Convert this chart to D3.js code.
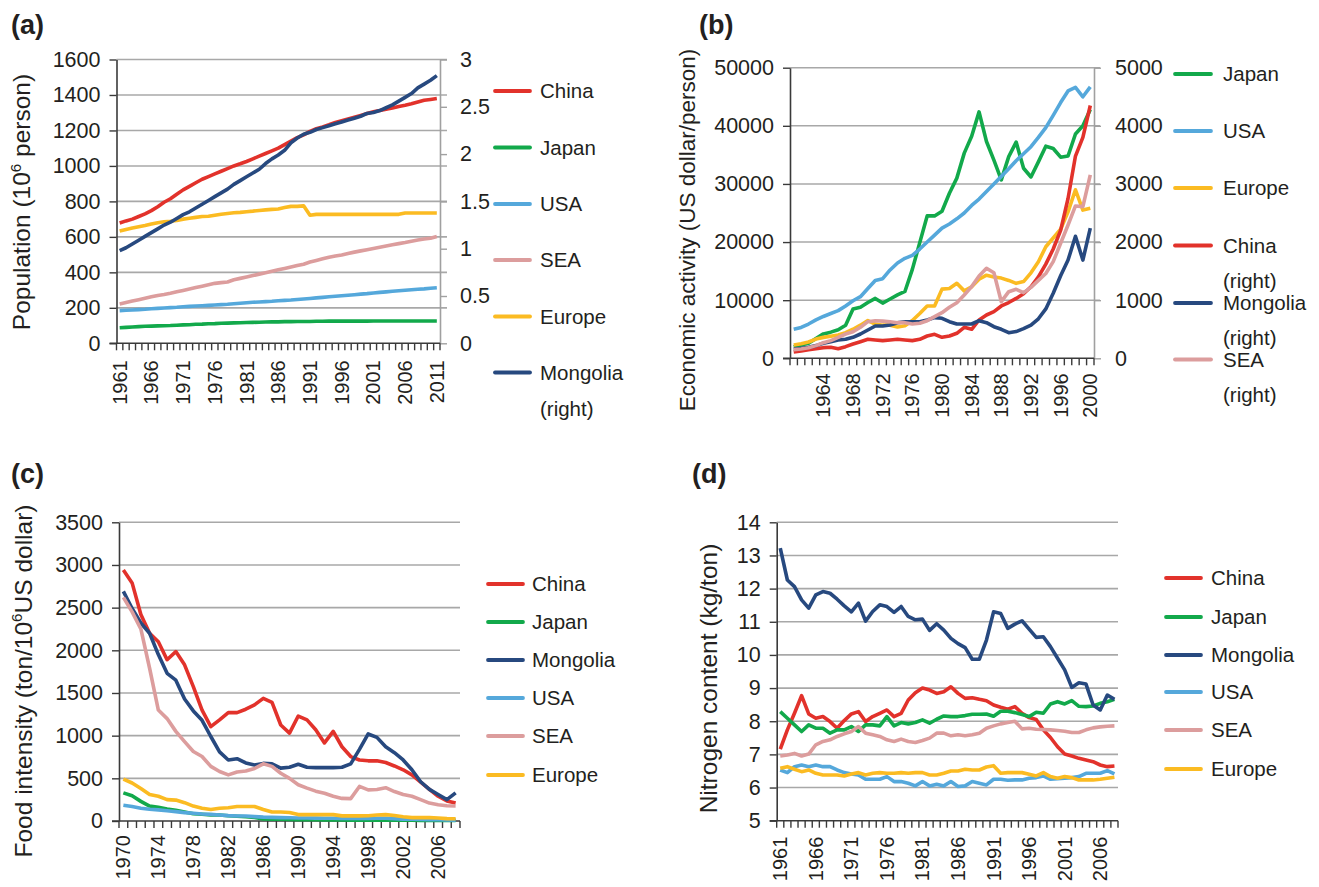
<!DOCTYPE html>
<html><head><meta charset="utf-8">
<script src="https://cdn.jsdelivr.net/npm/d3@7"></script>
<style>body{margin:0;background:#fff} svg{display:block}</style>
</head><body><svg id="chart" width="1319" height="887"></svg>
<script>
// ---------------- DATA ----------------
// (a) Population, 10^6 persons (Mongolia on right axis)
const yearsA = d3.range(1961, 2012);
const xLabelsA = [1961,1966,1971,1976,1981,1986,1991,1996,2001,2006,2011];
const yTicksA = [0,200,400,600,800,1000,1200,1400,1600];
const yRightTicksA = [0,0.5,1,1.5,2,2.5,3];
const popChina = [678,690,700,715,730,748,770,795,815,840, 865,885,905,925,940,955,970,985,1000,1012, 1025,1040,1055,1070,1085,1100,1120,1140,1160,1175, 1195,1210,1220,1232,1245,1255,1265,1275,1285,1295, 1305,1312,1320,1327,1335,1342,1350,1360,1370,1375,1380];
const popJapan = [88,90,92,94,96,97,98,99,100,102, 104,105,107,108,110,111,113,114,115,116, 117,118,119,120,121,121,122,122,123,123, 123,124,124,125,125,125,125,125,125,125, 126,126,126,126,126,126,126,126,126,126,126];
const popUSA = [184,186,188,190,192,195,197,199,201,203, 206,208,210,212,214,216,218,220,223,226, 229,231,233,235,237,240,242,244,247,250, 253,256,259,262,265,268,271,274,277,280, 284,287,290,293,296,299,302,305,307,310,313];
const popSEA = [222,230,238,246,254,262,270,275,282,290, 298,306,314,322,330,338,342,346,358,366, 374,382,390,398,406,414,422,430,438,446, 458,467,476,485,492,498,506,514,521,528, 535,542,549,556,562,568,575,582,588,592,602];
const popEurope = [633,642,650,657,664,672,680,685,688,692, 700,705,710,715,716,722,728,732,736,738, 742,745,749,752,755,757,765,772,772,775, 722,727,727,727,727,727,727,727,727,727, 727,727,727,727,727,735,735,735,735,735,735];
const popMongolia = [0.98,1.01,1.05,1.09,1.13,1.17,1.21,1.25,1.28,1.32, 1.36,1.39,1.43,1.47,1.51,1.55,1.59,1.63,1.68,1.72, 1.76,1.80,1.84,1.90,1.95,1.99,2.04,2.12,2.17,2.21, 2.23,2.26,2.28,2.30,2.32,2.34,2.36,2.38,2.40,2.43, 2.44,2.46,2.49,2.52,2.56,2.60,2.64,2.70,2.74,2.78,2.83];

// (b) Economic activity, US dollar/person (China, Mongolia, SEA on right axis)
const yearsB = d3.range(1960, 2001);
const xLabelsB = [1964,1968,1972,1976,1980,1984,1988,1992,1996,2000];
const yTicksB = [0,10000,20000,30000,40000,50000];
const yRightTicksB = [0,1000,2000,3000,4000,5000];
const gdpJapan = [2000,2300,2600,3400,4200,4500,4900,5700,8500,8800, 9600,10300,9500,10200,10900,11500,15300,19900,24500,24500, 25300,28400,31000,35300,38200,42400,37300,34100,30700,34700, 37200,32700,31200,33800,36500,36100,34600,34800,38600,40000, 42800];
const gdpUSA = [5000,5300,5900,6600,7200,7700,8200,9000,9900,10600, 12000,13400,13700,15200,16400,17200,17700,18800,20000,21200, 22400,23100,24000,25000,26300,27400,28700,30000,31300,32600, 34000,35200,36400,38000,39700,41800,44000,46000,46600,45000, 46700];
const gdpEurope = [2300,2500,2800,3300,3600,3800,4000,4400,5000,5700, 6500,5900,5700,5700,5400,5600,6500,7700,9000,9000, 11900,12000,12900,11600,12300,13600,14300,14000,13800,13400, 12900,13200,14700,16600,19200,20700,22200,25200,29000,25500, 25800];
const gdpChina = [109,126,149,166,183,189,166,200,246,286, 327,315,304,315,327,315,304,327,384,413, 361,384,430,533,499,659,745,802,900,960, 1030,1110,1230,1400,1620,1880,2200,2750,3480,3800, 4350];
const gdpMongolia = [161,172,189,218,258,286,315,327,361,418, 487,556,556,573,613,630,630,630,659,700, 688,630,590,590,590,647,613,544,499,440, 460,510,570,680,850,1120,1420,1690,2100,1690, 2240];
const gdpSEA = [149,161,183,218,269,304,361,418,458,533, 630,647,640,630,613,613,590,602,647,716, 785,877,957,1090,1233,1417,1549,1473,974,1146, 1187,1130,1220,1340,1460,1663,1979,2294,2621,2610, 3155];

// (c) Food intensity, ton/10^6 US dollar
const yearsC = d3.range(1970, 2009);
const xLabelsC = [1970,1974,1978,1982,1986,1990,1994,1998,2002,2006];
const yTicksC = [0,500,1000,1500,2000,2500,3000,3500];
const fiChina = [2940,2790,2420,2200,2100,1890,1985,1830,1575,1300, 1105,1185,1270,1270,1310,1360,1437,1390,1125,1030, 1230,1185,1070,915,1050,870,755,715,705,705, 685,645,600,540,455,370,290,235,210];
const fiJapan = [330,295,230,175,160,140,125,105,85,80, 72,70,62,55,50,42,25,20,20,18, 15,15,14,13,12,12,10,10,10,10, 9,9,8,8,7,6,6,5,5];
const fiMongolia = [2690,2490,2320,2200,1950,1730,1650,1430,1290,1180, 990,810,715,730,680,655,675,670,620,630, 665,630,625,625,625,630,670,840,1020,980, 870,800,715,600,460,370,310,250,330];
const fiUSA = [185,170,150,137,130,120,110,98,90,82, 78,70,63,59,58,51,45,43,40,38, 36,35,34,33,32,31,31,30,30,32, 33,28,22,20,18,16,14,12,10];
const fiSEA = [2620,2450,2250,1790,1300,1200,1050,930,815,755, 640,580,540,575,585,615,670,640,560,500, 425,385,350,325,290,265,262,405,365,370, 390,345,310,290,250,210,190,178,176];
const fiEurope = [490,445,380,310,290,250,245,215,175,150, 135,150,155,170,170,170,135,105,105,100, 75,75,75,75,75,60,60,60,62,70, 75,65,50,40,40,40,35,28,27];

// (d) Nitrogen content, kg/ton
const yearsD = d3.range(1961, 2009);
const xLabelsD = [1961,1966,1971,1976,1981,1986,1991,1996,2001,2006];
const yTicksD = [5,6,7,8,9,10,11,12,13,14];
const ncChina = [7.16,7.74,8.24,8.77,8.22,8.09,8.14,7.99,7.79,8.02, 8.22,8.29,7.99,8.14,8.24,8.34,8.14,8.24,8.64,8.86, 9.0,8.94,8.84,8.89,9.04,8.84,8.69,8.71,8.66,8.62, 8.49,8.42,8.36,8.44,8.24,8.11,8.05,7.74,7.51,7.23, 7.01,6.95,6.88,6.83,6.78,6.68,6.63,6.65];
const ncJapan = [8.29,8.09,7.89,7.69,7.89,7.79,7.79,7.64,7.74,7.74, 7.84,7.69,7.89,7.89,7.86,8.14,7.86,7.96,7.92,7.96, 8.04,7.94,8.06,8.16,8.14,8.14,8.17,8.21,8.21,8.22, 8.15,8.3,8.3,8.26,8.2,8.14,8.27,8.24,8.52,8.59, 8.52,8.62,8.45,8.44,8.46,8.54,8.59,8.66];
const ncMongolia = [13.22,12.26,12.06,11.66,11.41,11.81,11.91,11.86,11.68,11.48, 11.3,11.56,11.02,11.31,11.51,11.46,11.28,11.46,11.16,11.06, 11.08,10.74,10.94,10.75,10.5,10.34,10.22,9.87,9.87,10.45, 11.3,11.25,10.8,10.93,11.03,10.78,10.53,10.55,10.25,9.9, 9.55,9.02,9.16,9.12,8.49,8.34,8.79,8.66];
const ncUSA = [6.53,6.45,6.63,6.68,6.63,6.68,6.63,6.63,6.53,6.45, 6.41,6.38,6.25,6.25,6.25,6.33,6.18,6.18,6.13,6.05, 6.18,6.05,6.1,6.05,6.18,6.03,6.05,6.18,6.13,6.08, 6.25,6.25,6.22,6.23,6.23,6.28,6.3,6.35,6.25,6.27, 6.28,6.3,6.33,6.43,6.43,6.43,6.51,6.41];
const ncSEA = [6.95,6.98,7.03,6.95,7.01,7.29,7.39,7.44,7.54,7.62, 7.69,7.84,7.64,7.59,7.54,7.44,7.39,7.46,7.39,7.36, 7.42,7.49,7.64,7.64,7.56,7.59,7.56,7.59,7.64,7.79, 7.86,7.92,7.96,8.0,7.77,7.79,7.76,7.75,7.74,7.72, 7.7,7.66,7.66,7.74,7.8,7.83,7.85,7.86];
const ncEurope = [6.58,6.63,6.55,6.48,6.53,6.43,6.38,6.38,6.38,6.35, 6.41,6.45,6.38,6.43,6.45,6.43,6.43,6.45,6.43,6.45, 6.45,6.38,6.38,6.43,6.5,6.5,6.55,6.53,6.53,6.62, 6.66,6.43,6.45,6.45,6.45,6.4,6.35,6.45,6.33,6.28, 6.33,6.3,6.23,6.23,6.23,6.25,6.28,6.31];

// ---------------- STYLE ----------------
const FONT = "'Liberation Sans', Arial, Helvetica, sans-serif";
const COL = {China:"#E2322B", Japan:"#12A94B", USA:"#55A8DB", SEA:"#DC9D9D", Europe:"#FBBB22", Mongolia:"#27497F"};
const AXIS = "#3a3a3a", GRID = "#a8a8a8", RAXIS = "#a0a0a0";

const svg = d3.select("#chart").style("font-family", FONT);

function panel(cfg) {
  const g = svg.append("g");
  const x = d3.scaleBand().domain(cfg.years).range([cfg.x0, cfg.x1]).padding(0);
  const y = d3.scaleLinear().domain([cfg.yTicks[0], cfg.yTicks[cfg.yTicks.length-1]]).range([cfg.yBot, cfg.yTop]);
  const yR = cfg.rightTicks ? d3.scaleLinear().domain([cfg.rightTicks[0], cfg.rightTicks[cfg.rightTicks.length-1]]).range([cfg.yBot, cfg.yTop]) : null;

  // gridlines
  g.append("g").selectAll("line").data(cfg.yTicks.slice(1)).join("line")
    .attr("x1", cfg.x0).attr("x2", cfg.gridEnd)
    .attr("y1", d => y(d)).attr("y2", d => y(d))
    .attr("stroke", GRID).attr("stroke-width", 1.6);

  // right axis
  if (yR) {
    const ra = g.append("g").attr("transform", `translate(${cfg.x1},0)`)
      .call(d3.axisRight(yR).tickValues(cfg.rightTicks).tickSize(7).tickSizeOuter(0).tickPadding(cfg.rPad)
        .tickFormat(d => String(d)));
    ra.select(".domain").attr("stroke", RAXIS).attr("stroke-width", 1.6);
    ra.selectAll(".tick line").attr("stroke", RAXIS).attr("stroke-width", 1.4);
    ra.selectAll("text").attr("font-size", 21.5).attr("fill", "#231f20").attr("font-family", FONT);
  }

  // left axis
  const la = g.append("g").attr("transform", `translate(${cfg.x0},0)`)
    .call(d3.axisLeft(y).tickValues(cfg.yTicks).tickSize(7).tickSizeOuter(0).tickPadding(9).tickFormat(d => String(d)));
  la.select(".domain").attr("stroke", AXIS).attr("stroke-width", 1.6);
  la.selectAll(".tick line").attr("stroke", AXIS).attr("stroke-width", 1.4);
  la.selectAll("text").attr("font-size", 21.5).attr("fill", "#231f20").attr("font-family", FONT);

  // bottom axis (category axis, ticks between categories)
  const bw = x.bandwidth();
  g.append("line").attr("x1", cfg.x0 - 7).attr("x2", cfg.x1).attr("y1", cfg.yBot).attr("y2", cfg.yBot)
    .attr("stroke", AXIS).attr("stroke-width", 1.6);
  g.append("g").selectAll("line").data(d3.range(cfg.years.length + 1)).join("line")
    .attr("x1", i => cfg.x0 + i * bw).attr("x2", i => cfg.x0 + i * bw)
    .attr("y1", cfg.yBot).attr("y2", cfg.yBot + 7)
    .attr("stroke", AXIS).attr("stroke-width", 1.4);
  g.append("g").selectAll("text").data(cfg.xLabels).join("text")
    .attr("transform", d => `translate(${x(d) + bw/2},${cfg.yBot + cfg.xLabOff}) rotate(-90)`)
    .attr("text-anchor", "end").attr("dy", "0.35em")
    .attr("font-size", 20).attr("fill", "#231f20")
    .text(d => d);

  // lines
  cfg.series.forEach(s => {
    const sc = s.right ? yR : y;
    const line = d3.line().x((d, i) => x(cfg.years[i]) + bw/2).y(d => sc(d));
    g.append("path").datum(s.values).attr("d", line)
      .attr("fill", "none").attr("stroke", COL[s.name]).attr("stroke-width", 3.6)
      .attr("stroke-linejoin", "round").attr("stroke-linecap", "butt");
  });

  // legend
  const lg = g.append("g");
  cfg.legendOrder.forEach((name, i) => {
    const s = cfg.series.find(q => q.name === name);
    const yy = cfg.legY[i];
    lg.append("line").attr("x1", cfg.legX).attr("x2", cfg.legX + cfg.legW).attr("y1", yy).attr("y2", yy)
      .attr("stroke", COL[name]).attr("stroke-width", 3.8).attr("stroke-linecap", "round");
    lg.append("text").attr("x", cfg.legTextX).attr("y", yy).attr("dy", "0.35em")
      .attr("font-size", 20.5).attr("fill", "#231f20").text(name);
    if (s.right) {
      lg.append("text").attr("x", cfg.legTextX).attr("y", yy + cfg.rightGap).attr("dy", "0.35em")
        .attr("font-size", 20.5).attr("fill", "#231f20").text("(right)");
    }
  });

  // axis title
  const t = svg.append("text")
    .attr("transform", `translate(${cfg.titleX},${cfg.titleY}) rotate(-90)`)
    .attr("text-anchor", "middle").attr("font-size", cfg.titleSize).attr("fill", "#231f20");
  const shift = cfg.titleSize * 0.38;
  let pending = 0;
  cfg.title.forEach(part => {
    if (part.sup) {
      t.append("tspan").attr("dy", -shift).attr("font-size", cfg.titleSize * 0.62).text(part.sup);
      pending = shift;
    } else {
      const ts = t.append("tspan").text(part.t);
      if (pending) { ts.attr("dy", pending); pending = 0; }
    }
  });

  // panel label
  svg.append("text").attr("x", cfg.tagX).attr("y", cfg.tagY).attr("font-size", 27).attr("font-weight", "bold")
    .attr("fill", "#231f20").text(cfg.tag);
}

panel({
  tag: "(a)", tagX: 11, tagY: 34,
  years: yearsA, xLabels: xLabelsA, yTicks: yTicksA, rightTicks: yRightTicksA, rPad: 13,
  x0: 116.5, x1: 440, yTop: 59.5, yBot: 343.3, gridEnd: 447, xLabOff: 17,
  series: [
    {name: "China", values: popChina}, {name: "Japan", values: popJapan}, {name: "USA", values: popUSA},
    {name: "SEA", values: popSEA}, {name: "Europe", values: popEurope}, {name: "Mongolia", values: popMongolia, right: true}
  ],
  legendOrder: ["China","Japan","USA","SEA","Europe","Mongolia"],
  legY: [91, 147.5, 204, 260, 316.5, 372.5], legX: 495, legW: 35, legTextX: 540, rightGap: 36,
  title: [{t: "Population (10"}, {sup: "6"}, {t: " person)"}], titleX: 30, titleY: 202, titleSize: 24.5
});

panel({
  tag: "(b)", tagX: 699, tagY: 34,
  years: yearsB, xLabels: xLabelsB, yTicks: yTicksB, rightTicks: yRightTicksB, rPad: 14,
  x0: 790, x1: 1094, yTop: 67.7, yBot: 358.3, gridEnd: 1100, xLabOff: 15,
  series: [
    {name: "Japan", values: gdpJapan}, {name: "USA", values: gdpUSA}, {name: "Europe", values: gdpEurope},
    {name: "China", values: gdpChina, right: true}, {name: "Mongolia", values: gdpMongolia, right: true},
    {name: "SEA", values: gdpSEA, right: true}
  ],
  legendOrder: ["Japan","USA","Europe","China","Mongolia","SEA"],
  legY: [74, 131, 188, 245.5, 303, 359.5], legX: 1175, legW: 36, legTextX: 1223, rightGap: 35,
  title: [{t: "Economic activity (US dollar/person)"}], titleX: 695, titleY: 230, titleSize: 22.5
});

panel({
  tag: "(c)", tagX: 11, tagY: 483,
  years: yearsC, xLabels: xLabelsC, yTicks: yTicksC,
  x0: 119, x1: 460, yTop: 522.3, yBot: 821, gridEnd: 460, xLabOff: 14,
  series: [
    {name: "China", values: fiChina}, {name: "Japan", values: fiJapan}, {name: "Mongolia", values: fiMongolia},
    {name: "USA", values: fiUSA}, {name: "SEA", values: fiSEA}, {name: "Europe", values: fiEurope}
  ],
  legendOrder: ["China","Japan","Mongolia","USA","SEA","Europe"],
  legY: [584, 622, 660, 698, 736, 775], legX: 488, legW: 35, legTextX: 532, rightGap: 36,
  title: [{t: "Food intensity (ton/10"}, {sup: "6"}, {t: "US dollar)"}], titleX: 31.5, titleY: 681, titleSize: 24.5
});

panel({
  tag: "(d)", tagX: 692, tagY: 483,
  years: yearsD, xLabels: xLabelsD, yTicks: yTicksD,
  x0: 776.7, x1: 1118, yTop: 522.3, yBot: 820.7, gridEnd: 1118, xLabOff: 16,
  series: [
    {name: "China", values: ncChina}, {name: "Japan", values: ncJapan}, {name: "Mongolia", values: ncMongolia},
    {name: "USA", values: ncUSA}, {name: "SEA", values: ncSEA}, {name: "Europe", values: ncEurope}
  ],
  legendOrder: ["China","Japan","Mongolia","USA","SEA","Europe"],
  legY: [578, 617, 655, 692, 730, 769], legX: 1166, legW: 35, legTextX: 1211, rightGap: 36,
  title: [{t: "Nitrogen content (kg/ton)"}], titleX: 716.5, titleY: 678.5, titleSize: 24.5
});
</script></body></html>
